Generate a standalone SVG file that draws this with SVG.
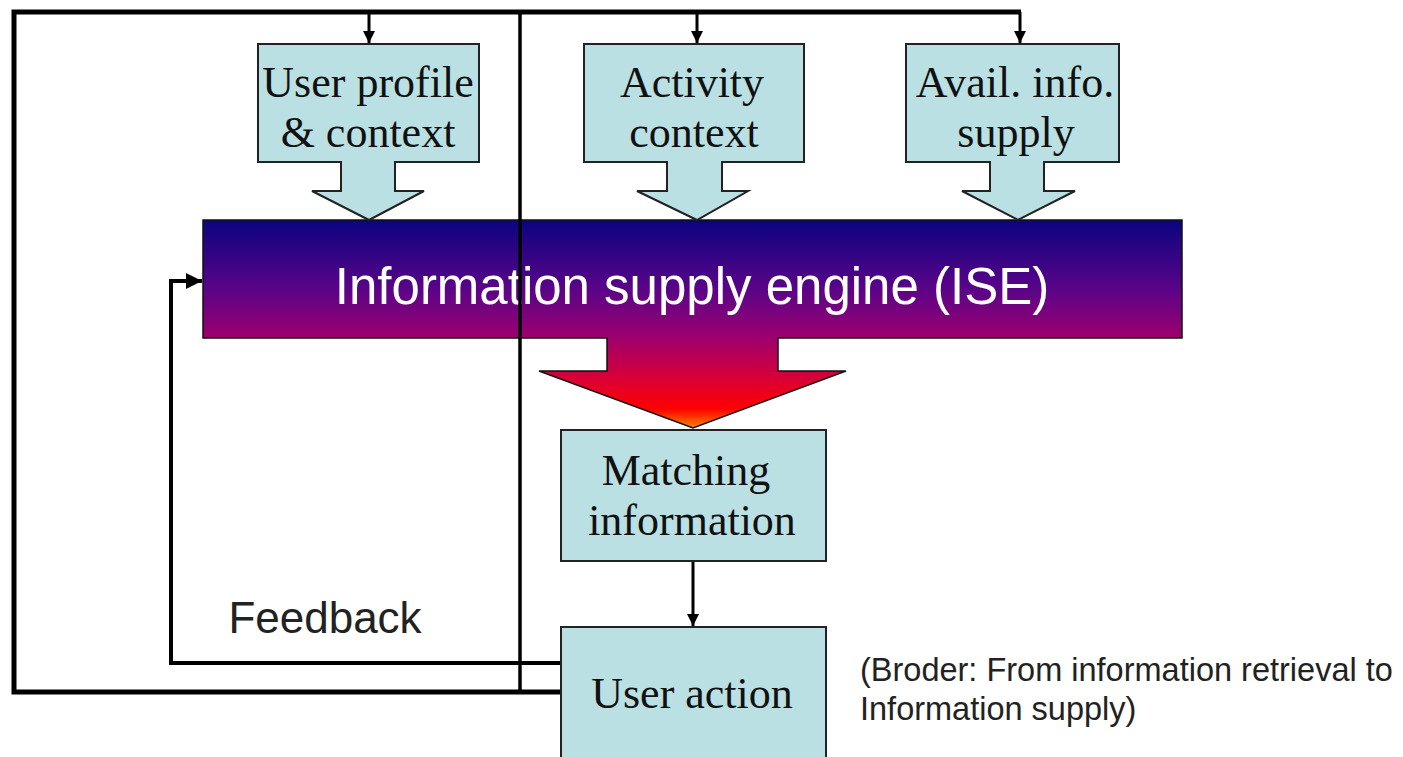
<svg xmlns="http://www.w3.org/2000/svg" width="1403" height="757" viewBox="0 0 1403 757">
<defs>
<linearGradient id="ise" gradientUnits="userSpaceOnUse" x1="0" y1="220" x2="0" y2="430">
<stop offset="0" stop-color="#0a0480"/>
<stop offset="0.33" stop-color="#5a0488"/>
<stop offset="0.55" stop-color="#9a0070"/>
<stop offset="0.75" stop-color="#d80038"/>
<stop offset="0.9" stop-color="#ff0000"/>
<stop offset="1" stop-color="#ff9000"/>
</linearGradient>
<marker id="ah" viewBox="0 0 10 10" refX="10" refY="5" markerWidth="4" markerHeight="4" orient="auto" markerUnits="strokeWidth">
<path d="M0,0 L10,5 L0,10 z" fill="#000"/>
</marker>
<style>
.box{fill:#bae0e3;stroke:#222;stroke-width:2}
.t{font-family:"Liberation Serif","Times New Roman",serif;font-size:44px;fill:#111;text-anchor:middle}
.s{font-family:"Liberation Sans",Arial,sans-serif}
.ln{fill:none;stroke:#000}
</style>
</defs>
<rect width="1403" height="757" fill="#fff"/>
<g id="ise-node">
<path d="M203,220 H1182 V338 H778 V371 H846 L693,428 L539,371 H607 V338 H203 Z" fill="url(#ise)" stroke="#111" stroke-width="1.5"/>
<text x="692" y="304" class="s" font-size="51" fill="#fff" text-anchor="middle">Information supply engine (ISE)</text>
</g>
<g id="connectors">
<path class="ln" stroke-width="5" d="M561,692 H14 V12 H1021"/>
<path class="ln" stroke-width="3.5" d="M520,12 V692"/>
<path class="ln" stroke-width="3" d="M369,12 V43" marker-end="url(#ah)"/>
<path class="ln" stroke-width="3" d="M697,12 V43" marker-end="url(#ah)"/>
<path class="ln" stroke-width="3" d="M1020,12 V43" marker-end="url(#ah)"/>
<path class="ln" stroke-width="4" d="M561,663 H171 V281 H202" marker-end="url(#ah)"/>
<path class="ln" stroke-width="3" d="M693,562 V626" marker-end="url(#ah)"/>
</g>
<g id="user-profile">
<path class="box" d="M258,44 H479 V162 H395 V191 H424 L369,220 L312,191 H341 V162 H258 Z"/>
<text x="368" y="97" class="t">User profile</text>
<text x="368" y="147" class="t">&amp; context</text>
</g>
<g id="activity">
<path class="box" d="M584,44 H804 V162 H722 V191 H748 L697,220 L637,191 H667 V162 H584 Z"/>
<text x="692" y="97" class="t">Activity</text>
<text x="694" y="147" class="t">context</text>
</g>
<g id="avail">
<path class="box" d="M906,44 H1119 V162 H1044 V191 H1075 L1018,220 L962,191 H990 V162 H906 Z"/>
<text x="1015" y="97" class="t">Avail. info.</text>
<text x="1016" y="147" class="t">supply</text>
</g>
<g id="matching">
<rect class="box" x="561" y="430" width="265" height="131"/>
<text x="686" y="485" class="t">Matching</text>
<text x="692" y="535" class="t">information</text>
</g>
<g id="user-action">
<rect class="box" x="561" y="627" width="265" height="140"/>
<text x="692" y="708" class="t">User action</text>
</g>
<text x="325" y="633" class="s" font-size="44" fill="#222" text-anchor="middle">Feedback</text>
<text x="860" y="681" class="s" font-size="32.5" fill="#222">(Broder: From information retrieval to</text>
<text x="860" y="720" class="s" font-size="32.5" fill="#222">Information supply)</text>
</svg>
